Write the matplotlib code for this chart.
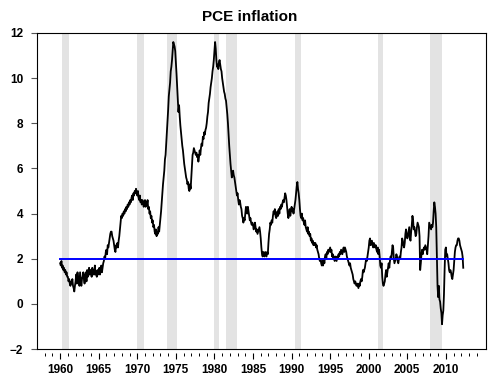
import matplotlib
matplotlib.use("Agg")
import matplotlib.pyplot as plt
import numpy as np

# PCE inflation, 12-month change, monthly, Jan 1960 onward
pce_by_year = {
    1960: [1.8, 1.7, 1.9, 1.6, 1.7, 1.5, 1.6, 1.4, 1.5, 1.3, 1.4, 1.2],
    1961: [1.2, 1.0, 1.1, 0.9, 0.8, 1.0, 0.9, 1.1, 0.8, 0.7, 0.55, 0.8],
    1962: [1.0, 1.3, 0.9, 1.4, 1.1, 1.2, 0.8, 1.4, 1.1, 0.8, 1.1, 1.2],
    1963: [1.4, 1.1, 0.9, 1.3, 1.4, 1.0, 1.5, 1.2, 1.3, 1.6, 1.3, 1.5],
    1964: [1.4, 1.2, 1.6, 1.3, 1.5, 1.3, 1.7, 1.3, 1.4, 1.2, 1.5, 1.3],
    1965: [1.4, 1.6, 1.3, 1.5, 1.7, 1.4, 1.6, 1.8, 1.9, 2.1, 2.0, 2.3],
    1966: [2.4, 2.2, 2.6, 2.5, 2.7, 2.9, 3.1, 3.2, 3.2, 3.0, 2.9, 2.8],
    1967: [2.6, 2.4, 2.3, 2.6, 2.5, 2.7, 2.5, 2.8, 3.0, 3.3, 3.6, 3.9],
    1968: [3.8, 4.0, 3.9, 4.1, 4.0, 4.2, 4.1, 4.3, 4.2, 4.4, 4.3, 4.5],
    1969: [4.4, 4.6, 4.5, 4.7, 4.8, 4.6, 4.9, 4.8, 5.0, 4.9, 5.1, 4.9],
    1970: [4.8, 5.0, 4.7, 4.6, 4.8, 4.5, 4.6, 4.4, 4.6, 4.5, 4.3, 4.5],
    1971: [4.6, 4.3, 4.5, 4.4, 4.6, 4.2, 4.3, 4.0, 4.1, 3.8, 3.9, 3.6],
    1972: [3.7, 3.4, 3.5, 3.2, 3.1, 3.3, 3.0, 3.2, 3.1, 3.4, 3.2, 3.5],
    1973: [3.8, 4.1, 4.5, 4.9, 5.3, 5.6, 5.9, 6.4, 6.6, 7.1, 7.6, 8.1],
    1974: [8.6, 9.2, 9.5, 9.8, 10.3, 10.5, 10.8, 11.2, 11.6, 11.5, 11.4, 11.2],
    1975: [10.7, 10.2, 9.6, 9.0, 8.5, 8.8, 8.3, 7.9, 7.6, 7.3, 7.0, 6.8],
    1976: [6.5, 6.2, 6.0, 5.8, 5.6, 5.5, 5.3, 5.4, 5.1, 5.0, 5.3, 5.1],
    1977: [5.6, 6.1, 6.6, 6.7, 6.9, 6.8, 6.7, 6.6, 6.7, 6.5, 6.6, 6.3],
    1978: [6.5, 6.8, 6.6, 6.9, 7.1, 7.0, 7.4, 7.3, 7.6, 7.5, 7.7, 7.8],
    1979: [8.0, 8.3, 8.5, 8.9, 9.1, 9.3, 9.6, 9.8, 10.0, 10.3, 10.5, 10.8],
    1980: [11.2, 11.6, 11.3, 10.8, 10.5, 10.6, 10.4, 10.7, 10.8, 10.6, 10.4, 10.3],
    1981: [10.0, 9.8, 9.6, 9.4, 9.3, 9.1, 9.0, 8.7, 8.4, 8.0, 7.5, 7.0],
    1982: [6.6, 6.2, 5.9, 5.6, 5.8, 5.9, 5.7, 5.6, 5.4, 5.2, 5.0, 4.8],
    1983: [4.9, 4.6, 4.4, 4.6, 4.5, 4.3, 4.2, 3.9, 3.8, 3.6, 3.8, 3.7],
    1984: [4.0, 4.3, 4.2, 4.0, 4.3, 4.1, 3.9, 3.7, 3.8, 3.6, 3.5, 3.6],
    1985: [3.5, 3.3, 3.4, 3.6, 3.4, 3.2, 3.3, 3.1, 3.2, 3.3, 3.4, 3.2],
    1986: [2.9, 2.5, 2.2, 2.1, 2.3, 2.2, 2.1, 2.3, 2.2, 2.1, 2.3, 2.2],
    1987: [2.7, 3.1, 3.3, 3.6, 3.5, 3.7, 3.6, 3.9, 4.1, 4.0, 4.2, 3.9],
    1988: [3.8, 3.9, 4.1, 3.9, 4.2, 4.0, 4.3, 4.2, 4.4, 4.3, 4.5, 4.6],
    1989: [4.5, 4.7, 4.9, 4.8, 4.6, 4.3, 4.0, 3.8, 4.0, 4.2, 3.9, 4.1],
    1990: [4.3, 4.1, 4.2, 4.0, 4.2, 4.4, 4.6, 4.9, 5.2, 5.4, 5.1, 4.9],
    1991: [4.6, 4.2, 3.9, 3.8, 4.0, 3.7, 3.8, 3.6, 3.5, 3.7, 3.4, 3.3],
    1992: [3.2, 3.4, 3.1, 3.2, 3.0, 3.1, 2.8, 2.9, 2.7, 2.8, 2.6, 2.7],
    1993: [2.6, 2.7, 2.5, 2.6, 2.4, 2.3, 2.2, 2.0, 1.9, 2.0, 1.8, 1.7],
    1994: [1.9, 1.7, 2.0, 1.8, 2.1, 2.2, 2.0, 2.3, 2.2, 2.4, 2.3, 2.4],
    1995: [2.5, 2.3, 2.4, 2.1, 2.2, 2.0, 2.1, 1.9, 2.1, 2.0, 1.9, 2.1],
    1996: [2.0, 2.2, 2.1, 2.3, 2.2, 2.4, 2.3, 2.2, 2.4, 2.5, 2.3, 2.5],
    1997: [2.4, 2.3, 2.1, 2.0, 1.9, 1.8, 1.7, 1.8, 1.6, 1.5, 1.4, 1.3],
    1998: [1.1, 1.0, 0.9, 1.0, 0.9, 0.8, 0.9, 0.8, 0.7, 0.9, 0.8, 1.0],
    1999: [1.1, 1.0, 1.2, 1.5, 1.4, 1.5, 1.6, 1.8, 2.0, 1.9, 2.1, 2.3],
    2000: [2.5, 2.8, 2.9, 2.6, 2.7, 2.8, 2.6, 2.5, 2.7, 2.6, 2.5, 2.6],
    2001: [2.4, 2.3, 2.5, 2.2, 2.4, 2.1, 1.7, 1.6, 1.8, 1.2, 0.9, 0.8],
    2002: [0.9, 1.0, 1.3, 1.5, 1.2, 1.4, 1.6, 1.8, 1.6, 1.9, 2.1, 2.0],
    2003: [2.3, 2.6, 2.5, 2.0, 1.8, 1.9, 2.0, 2.2, 2.1, 1.9, 1.8, 2.0],
    2004: [2.1, 2.0, 2.3, 2.5, 2.9, 2.8, 2.6, 2.5, 2.7, 3.1, 3.3, 3.1],
    2005: [2.9, 3.0, 3.2, 3.4, 2.9, 2.8, 3.2, 3.5, 3.9, 3.7, 3.3, 3.4],
    2006: [3.2, 3.0, 3.1, 3.4, 3.6, 3.5, 3.4, 3.0, 1.5, 1.8, 2.2, 2.4],
    2007: [2.2, 2.4, 2.5, 2.4, 2.6, 2.5, 2.4, 2.2, 2.6, 3.0, 3.6, 3.5],
    2008: [3.4, 3.3, 3.5, 3.4, 3.6, 4.1, 4.5, 4.3, 4.0, 3.4, 2.0, 0.8],
    2009: [0.3, 0.8, 0.2, 0.1, -0.2, -0.4, -0.9, -0.5, -0.3, 0.4, 1.5, 2.4],
    2010: [2.5, 2.1, 2.2, 2.0, 1.8, 1.5, 1.4, 1.5, 1.4, 1.2, 1.1, 1.3],
    2011: [1.5, 1.9, 2.3, 2.5, 2.6, 2.6, 2.8, 2.9, 2.9, 2.8, 2.6, 2.5],
    2012: [2.4, 2.3, 2.1, 1.6],
}

# NBER recessions (start, end) in fractional years
recessions = [
    (1960.25, 1961.15),
    (1969.9, 1970.9),
    (1973.85, 1975.2),
    (1980.0, 1980.55),
    (1981.5, 1982.9),
    (1990.5, 1991.2),
    (2001.2, 2001.9),
    (2007.9, 2009.5),
]

target = 2.0
year_ticks = list(range(1960, 2011, 5))
y_ticks = list(range(-2, 13, 2))

dates = []
values = []
for yr, vals in pce_by_year.items():
    for m, v in enumerate(vals):
        dates.append(yr + m / 12)
        values.append(v)
dates = np.array(dates)
values = np.array(values)

plt.rcParams["font.family"] = ["Liberation Sans", "DejaVu Sans"]

fig = plt.figure(figsize=(5.0, 3.79), dpi=100)
ax = fig.add_axes([0.074, 0.079, 0.898, 0.834])

for start, end in recessions:
    ax.axvspan(start, end, color="#e3e3e3", lw=0, zorder=0)

ax.plot(dates, values, color="black", lw=1.3, zorder=2)
ax.plot([dates[0], dates[-1]], [target, target], color="#0000ff", lw=1.4, zorder=3)

ax.set_xlim(1957.0, 2015.2)
ax.set_ylim(-2, 12)
ax.set_xticks(year_ticks)
ax.set_xticks(range(1958, 2015), minor=True)
ax.set_yticks(y_ticks)

# ticks sit a little below the frame, as in the original
ax.spines["bottom"].set_position(("outward", 3))
ax.spines["bottom"].set_visible(False)
ax.plot([0, 1], [0, 0], transform=ax.transAxes, color="black", lw=0.8, clip_on=False)
for side in ["left", "top", "right"]:
    ax.spines[side].set_linewidth(0.8)

ax.tick_params(axis="x", which="major", direction="out", length=4, width=0.8, pad=4)
ax.tick_params(axis="x", which="minor", direction="out", length=2.5, width=0.7)
ax.tick_params(axis="y", direction="out", length=4, width=0.8, color="#555555", pad=6)
for lab in ax.get_xticklabels() + ax.get_yticklabels():
    lab.set_fontsize(8.5)
    lab.set_fontweight("bold")

fig.text(0.5, 0.955, "PCE inflation", ha="center", va="center",
         fontsize=11, fontweight="bold")

fig.savefig("out.png", dpi=100)
